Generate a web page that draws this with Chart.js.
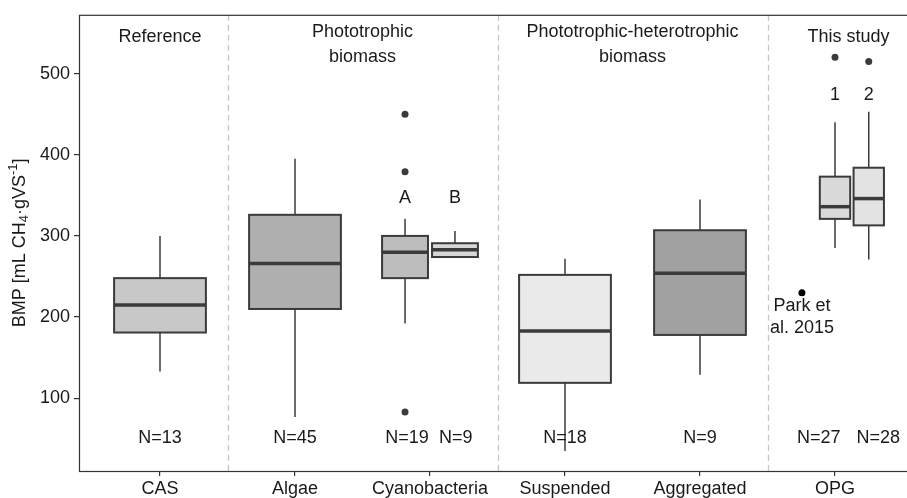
<!DOCTYPE html>
<html lang="en">
<head>
<meta charset="UTF-8">
<title>BMP by biomass type</title>
<style>
    body {
        margin: 0;
        background: #fff;
        overflow: hidden;
    }
    #wrap {
        width: 920px;
        height: 498px;
    }
</style>
<script src="https://cdn.jsdelivr.net/npm/chart.js"></script>
</head>
<body>
<div id="wrap"><canvas id="bmpChart" width="920" height="498"></canvas></div>
<script>
// x axis categories and y ticks
const categories = ['CAS', 'Algae', 'Cyanobacteria', 'Suspended', 'Aggregated', 'OPG'];
const yTicks = [100, 200, 300, 400, 500];

// one entry per box (Cyanobacteria and OPG hold two boxes each)
const boxCategory = [0, 1, 2, 2, 3, 4, 5, 5];
const boxLow    = [133, 77, 192, 273, 35, 129, 285, 271];
const boxQ1     = [181, 210, 248, 274, 119, 178, 321, 313];
const boxMedian = [215, 266, 280, 283, 183, 254, 336, 346];
const boxQ3     = [248, 326, 300, 291, 252, 307, 373, 384];
const boxHigh   = [300, 395, 321, 306, 272, 345, 440, 453];
const boxN      = [13, 45, 19, 9, 18, 9, 27, 28];
const boxTag    = ['', '', 'A', 'B', '', '', '1', '2'];

// outliers (index of the box they belong to, value)
const outlierBox   = [2, 2, 2, 6, 7];
const outlierValue = [450, 379, 83, 520, 515];

// literature value for OPG
const parkLabel = ['Park et', 'al. 2015'];
const parkValue = 230;

// group headings
const groupTitles = [['Reference'], ['Phototrophic', 'biomass'], ['Phototrophic-heterotrophic', 'biomass'], ['This study']];

// ---- styling ----
const boxOffset = [0, 0, -0.185, 0.185, 0, 0, 0, 0.25];
const boxWidth  = [0.68, 0.68, 0.34, 0.34, 0.68, 0.68, 0.225, 0.225];
const boxFill   = ['#c8c8c8', '#afafaf', '#bdbdbd', '#d7d7d7', '#eaeaea', '#a1a1a1', '#dadada', '#e3e3e3'];
const nOffset   = [0, 0, -0.17, 0.19, 0, 0, -0.12, 0.32];
const groupX    = [1, 2.5, 4.5, 6.1];
const separators = [1.5, 3.5, 5.5];
const parkOffset = -0.245;
const FONT = '"Liberation Sans", Arial, sans-serif';
const INK = '#3b3b3b';

const outlierPoints = outlierBox.map((b, i) => ({ x: boxCategory[b] + 1 + boxOffset[b], y: outlierValue[i] }));
const parkPoint = { x: 6 + parkOffset, y: parkValue };

function centerText(ctx, text, px, py) {
    ctx.textAlign = 'center';
    ctx.textBaseline = 'middle';
    ctx.fillText(text, px, py);
}

const boxPlugin = {
    id: 'boxes',
    beforeDatasetsDraw(chart) {
        const { ctx, chartArea: a, scales: { x, y } } = chart;
        ctx.save();

        // dashed group separators
        ctx.setLineDash([6, 4]);
        ctx.strokeStyle = '#c6c6c6';
        ctx.lineWidth = 1.3;
        separators.forEach(s => {
            const px = Math.round(x.getPixelForValue(s)) + 0.5;
            ctx.beginPath();
            ctx.moveTo(px, a.top);
            ctx.lineTo(px, a.bottom);
            ctx.stroke();
        });
        ctx.setLineDash([]);

        // boxes and whiskers
        boxCategory.forEach((c, i) => {
            const cx = c + 1 + boxOffset[i];
            const xm = x.getPixelForValue(cx);
            const xl = x.getPixelForValue(cx - boxWidth[i] / 2);
            const xr = x.getPixelForValue(cx + boxWidth[i] / 2);
            const yq1 = y.getPixelForValue(boxQ1[i]);
            const yq3 = y.getPixelForValue(boxQ3[i]);

            ctx.strokeStyle = INK;
            ctx.lineWidth = 1.5;
            ctx.beginPath();
            ctx.moveTo(xm, y.getPixelForValue(boxHigh[i]));
            ctx.lineTo(xm, yq3);
            ctx.moveTo(xm, yq1);
            ctx.lineTo(xm, y.getPixelForValue(boxLow[i]));
            ctx.stroke();

            ctx.fillStyle = boxFill[i];
            ctx.fillRect(xl, yq3, xr - xl, yq1 - yq3);
            ctx.lineWidth = 2;
            ctx.strokeRect(xl, yq3, xr - xl, yq1 - yq3);

            ctx.lineWidth = 3.5;
            const ym = y.getPixelForValue(boxMedian[i]);
            ctx.beginPath();
            ctx.moveTo(xl, ym);
            ctx.lineTo(xr, ym);
            ctx.stroke();
        });
        ctx.restore();
    },
    afterDraw(chart) {
        const { ctx, chartArea: a, scales: { x, y } } = chart;
        ctx.save();

        // panel border
        ctx.strokeStyle = '#333';
        ctx.lineWidth = 1.2;
        ctx.strokeRect(a.left + 0.5, a.top + 0.5, a.right - a.left, a.bottom - a.top);

        ctx.fillStyle = '#1a1a1a';
        ctx.font = '18px ' + FONT;

        // group headings
        groupTitles.forEach((lines, g) => {
            const px = x.getPixelForValue(groupX[g]);
            const vals = lines.length === 1 ? [545] : [551, 520];
            lines.forEach((t, k) => centerText(ctx, t, px, y.getPixelForValue(vals[k])));
        });

        // sample sizes and tags
        boxCategory.forEach((c, i) => {
            centerText(ctx, 'N=' + boxN[i], x.getPixelForValue(c + 1 + nOffset[i]), y.getPixelForValue(51));
            if (boxTag[i]) {
                const tv = boxCategory[i] === 5 ? 474 : 347;
                centerText(ctx, boxTag[i], x.getPixelForValue(c + 1 + boxOffset[i]), y.getPixelForValue(tv));
            }
        });

        // Park et al. label
        parkLabel.forEach((t, k) => {
            centerText(ctx, t, x.getPixelForValue(6 + parkOffset), y.getPixelForValue([214, 186][k]));
        });

        // y axis title with subscript / superscript
        const parts = [
            { t: 'BMP [mL CH', f: 18, dy: 0 },
            { t: '4', f: 13, dy: 4 },
            { t: '\u00b7gVS', f: 18, dy: 0 },
            { t: '-1', f: 13, dy: -7 },
            { t: ']', f: 18, dy: 0 }
        ];
        let total = 0;
        parts.forEach(p => { ctx.font = p.f + 'px ' + FONT; p.w = ctx.measureText(p.t).width; total += p.w; });
        ctx.translate(20, (a.top + a.bottom) / 2);
        ctx.rotate(-Math.PI / 2);
        ctx.textAlign = 'left';
        ctx.textBaseline = 'middle';
        let cur = -total / 2;
        parts.forEach(p => {
            ctx.font = p.f + 'px ' + FONT;
            ctx.fillText(p.t, cur, p.dy);
            cur += p.w;
        });
        ctx.restore();
    }
};

const chart = new Chart(document.getElementById('bmpChart'), {
    type: 'scatter',
    data: {
        datasets: [
            { data: outlierPoints, pointRadius: 3.5, backgroundColor: INK, borderWidth: 0 },
            { data: [parkPoint], pointRadius: 3.5, backgroundColor: '#000', borderWidth: 0 }
        ]
    },
    options: {
        responsive: false,
        animation: false,
        devicePixelRatio: 1,
        layout: { padding: { top: 13, right: 4, left: 0, bottom: 0 } },
        plugins: { legend: { display: false }, tooltip: { enabled: false } },
        scales: {
            x: {
                type: 'linear',
                min: 0.4,
                max: 6.6,
                afterBuildTicks: s => { s.ticks = categories.map((c, i) => ({ value: i + 1 })); },
                afterFit: s => { s.height = 27; },
                ticks: {
                    callback: v => categories[Math.round(v) - 1],
                    font: { family: FONT, size: 18 },
                    color: '#1a1a1a',
                    padding: 2,
                    maxRotation: 0,
                    autoSkip: false
                },
                grid: { display: true, drawOnChartArea: false, drawTicks: true, tickLength: 5, color: '#333', lineWidth: 1.2 },
                border: { display: false }
            },
            y: {
                min: 10.4,
                max: 572.4,
                afterBuildTicks: s => { s.ticks = yTicks.map(v => ({ value: v })); },
                afterFit: s => { s.width = 79; },
                ticks: {
                    font: { family: FONT, size: 18 },
                    color: '#1a1a1a',
                    padding: 4
                },
                grid: { display: true, drawOnChartArea: false, drawTicks: true, tickLength: 5, color: '#333', lineWidth: 1.2 },
                border: { display: false }
            }
        }
    },
    plugins: [boxPlugin]
});
</script>
</body>
</html>
